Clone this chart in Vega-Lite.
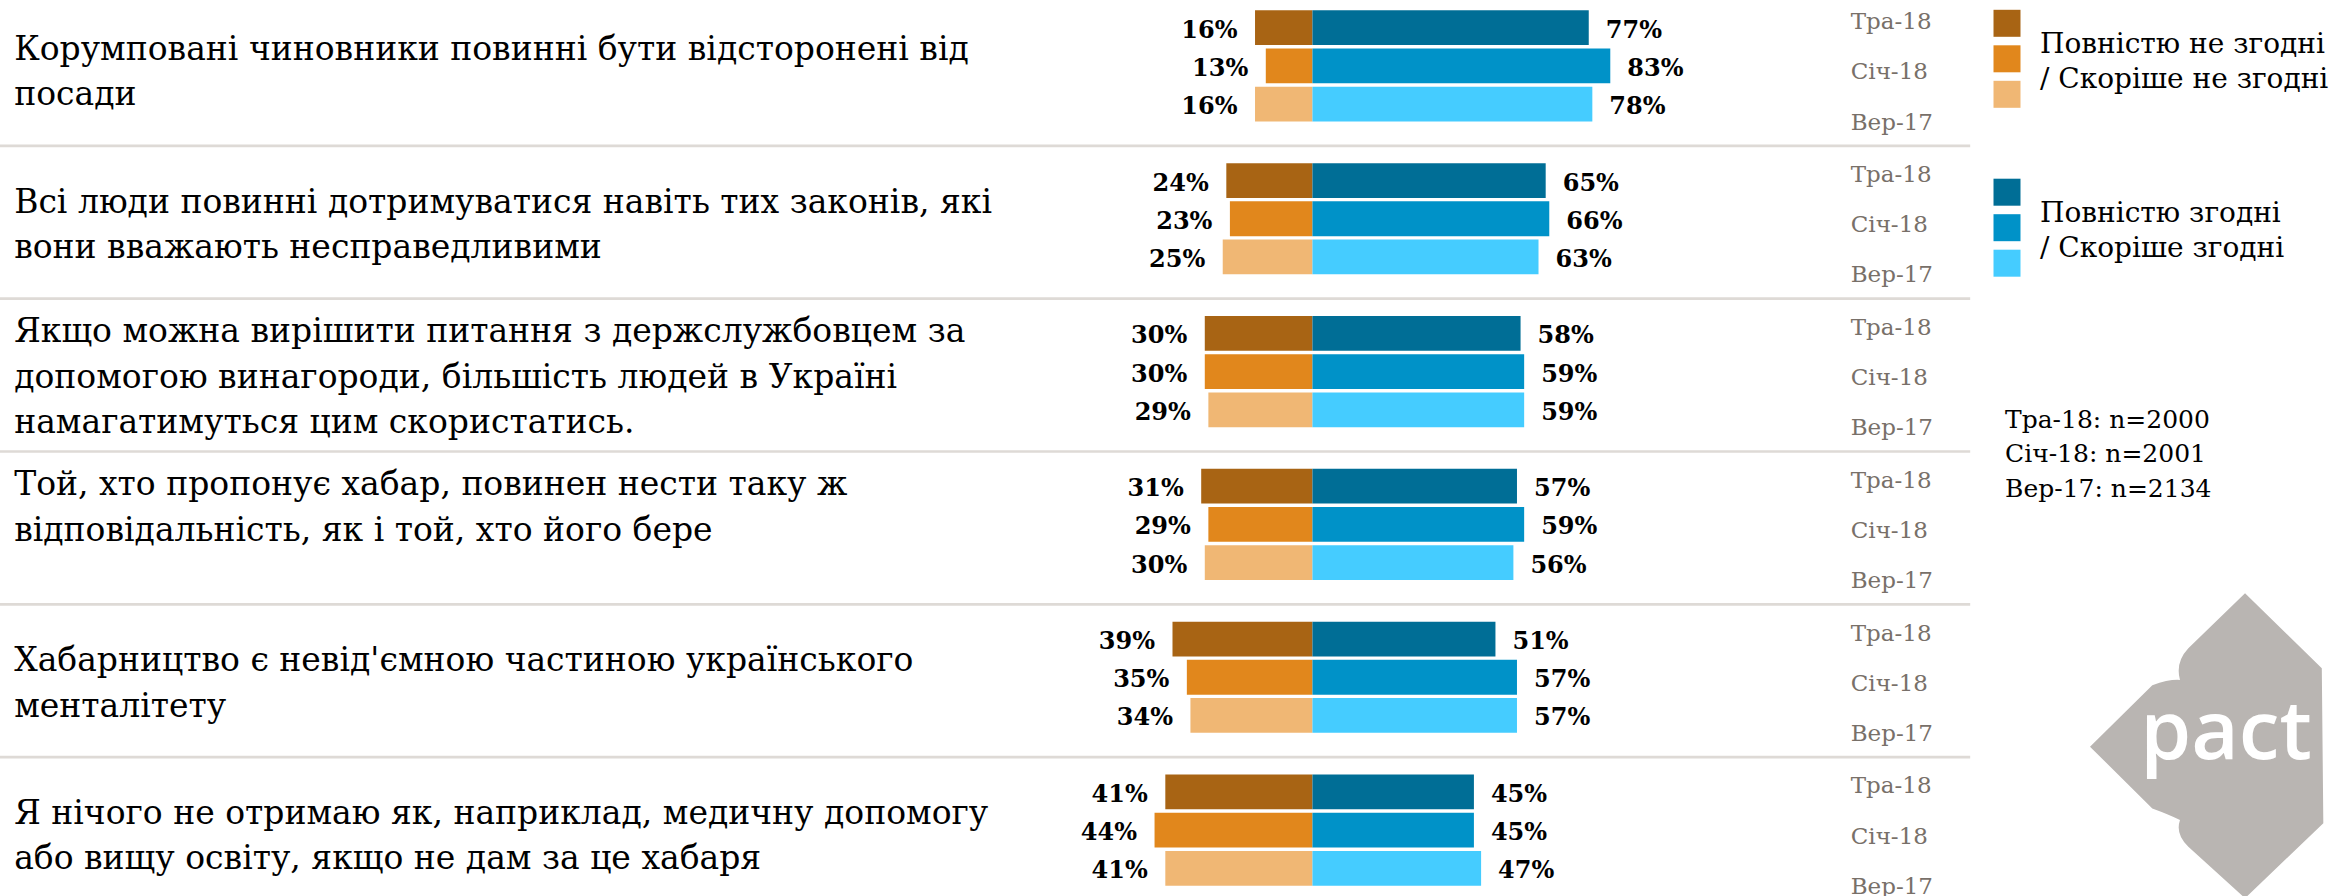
{
  "$schema": "https://vega.github.io/schema/vega-lite/v6.json",
  "width": 2334,
  "height": 896,
  "autosize": {"type": "none"},
  "padding": 0,
  "background": "white",
  "config": {
    "view": {"stroke": null},
    "axis": {"disable": true}
  },
  "datasets": {
    "bars": [
      {"slot": "1a", "wave": "Тра-18", "dis": 16, "agr": 77},
      {"slot": "1b", "wave": "Січ-18", "dis": 13, "agr": 83},
      {"slot": "1c", "wave": "Вер-17", "dis": 16, "agr": 78},
      {"slot": "2a", "wave": "Тра-18", "dis": 24, "agr": 65},
      {"slot": "2b", "wave": "Січ-18", "dis": 23, "agr": 66},
      {"slot": "2c", "wave": "Вер-17", "dis": 25, "agr": 63},
      {"slot": "3a", "wave": "Тра-18", "dis": 30, "agr": 58},
      {"slot": "3b", "wave": "Січ-18", "dis": 30, "agr": 59},
      {"slot": "3c", "wave": "Вер-17", "dis": 29, "agr": 59},
      {"slot": "4a", "wave": "Тра-18", "dis": 31, "agr": 57},
      {"slot": "4b", "wave": "Січ-18", "dis": 29, "agr": 59},
      {"slot": "4c", "wave": "Вер-17", "dis": 30, "agr": 56},
      {"slot": "5a", "wave": "Тра-18", "dis": 39, "agr": 51},
      {"slot": "5b", "wave": "Січ-18", "dis": 35, "agr": 57},
      {"slot": "5c", "wave": "Вер-17", "dis": 34, "agr": 57},
      {"slot": "6a", "wave": "Тра-18", "dis": 41, "agr": 45},
      {"slot": "6b", "wave": "Січ-18", "dis": 44, "agr": 45},
      {"slot": "6c", "wave": "Вер-17", "dis": 41, "agr": 47}
    ],
    "questions": [
      {"slot": "1a", "text": "Корумповані чиновники повинні бути відсторонені від\nпосади"},
      {"slot": "2a", "text": "Всі люди повинні дотримуватися навіть тих законів, які\nвони вважають несправедливими"},
      {"slot": "3a", "text": "Якщо можна вирішити питання з держслужбовцем за\nдопомогою винагороди, більшість людей в Україні\nнамагатимуться цим скористатись."},
      {"slot": "4a", "text": "Той, хто пропонує хабар, повинен нести таку ж\nвідповідальність, як і той, хто його бере"},
      {"slot": "5a", "text": "Хабарництво є невід'ємною частиною українського\nменталітету"},
      {"slot": "6a", "text": "Я нічого не отримаю як, наприклад, медичну допомогу\nабо вищу освіту, якщо не дам за це хабаря"}
    ],
    "seps": [
      {"slot": "1s"}, {"slot": "2s"}, {"slot": "3s"}, {"slot": "4s"}, {"slot": "5s"}
    ],
    "notes": [
      {"slot": "3s", "text": "Тра-18: n=2000\nСіч-18: n=2001\nВер-17: n=2134"}
    ],
    "logo": [
      {"slot": "5s", "label": "pact"}
    ]
  },
  "layer": [
    {
      "data": {"name": "seps"},
      "mark": {"type": "rule", "color": "#dedad6", "strokeWidth": 2.7},
      "encoding": {
        "y": {
          "field": "slot", "type": "nominal", "bandPosition": 0.6, "axis": null,
          "scale": {
            "type": "band",
            "domain": ["1a","1b","1c","1s","2a","2b","2c","2s","3a","3b","3c","3s","4a","4b","4c","4s","5a","5b","5c","5s","6a","6b","6c"],
            "paddingInner": 0.09,
            "paddingOuter": 0.27
          }
        },
        "x": {"datum": -365.74, "type": "quantitative", "axis": null,
              "scale": {"domain": [-365.74, 284.68], "nice": false, "zero": false}},
        "x2": {"datum": 183.3}
      }
    },
    {
      "data": {"name": "bars"},
      "transform": [{"calculate": "-datum.dis", "as": "neg"}],
      "mark": {"type": "bar"},
      "encoding": {
        "y": {"field": "slot", "type": "nominal", "axis": null},
        "x": {"field": "neg", "type": "quantitative", "axis": null},
        "x2": {"datum": 0},
        "color": {
          "field": "wave", "type": "nominal",
          "scale": {"domain": ["Тра-18", "Січ-18", "Вер-17"], "range": ["#a86414", "#e1871c", "#f0b774"]},
          "legend": {
            "orient": "none", "legendX": 1993, "legendY": 9.3, "title": null, "padding": 0,
            "symbolType": "square", "symbolSize": 729, "symbolStrokeWidth": 0, "symbolOpacity": 1,
            "rowPadding": -6.5, "labelOffset": 19, "labelLimit": 0,
            "labelFont": "DejaVu Serif", "labelFontSize": 28, "labelColor": "#000000",
            "labelBaseline": "bottom",
            "labelExpr": "datum.label == 'Січ-18' ? 'Повністю не згодні' : datum.label == 'Вер-17' ? '/ Скоріше не згодні' : ''"
          }
        }
      }
    },
    {
      "data": {"name": "bars"},
      "mark": {"type": "bar"},
      "encoding": {
        "y": {"field": "slot", "type": "nominal", "axis": null},
        "x": {"field": "agr", "type": "quantitative", "axis": null},
        "x2": {"datum": 0},
        "fill": {
          "field": "wave", "type": "nominal", "sort": null,
          "scale": {"range": ["#006e96", "#0092c8", "#45ccff"]},
          "legend": {
            "orient": "none", "legendX": 1993, "legendY": 178.2, "title": null, "padding": 0,
            "symbolType": "square", "symbolSize": 729, "symbolStrokeWidth": 0, "symbolOpacity": 1,
            "rowPadding": -6.5, "labelOffset": 19, "labelLimit": 0,
            "labelFont": "DejaVu Serif", "labelFontSize": 28, "labelColor": "#000000",
            "labelBaseline": "bottom",
            "labelExpr": "datum.label == 'Січ-18' ? 'Повністю згодні' : datum.label == 'Вер-17' ? '/ Скоріше згодні' : ''"
          }
        }
      }
    },
    {
      "data": {"name": "bars"},
      "transform": [
        {"calculate": "-datum.dis", "as": "neg"},
        {"calculate": "datum.dis + '%'", "as": "lab"}
      ],
      "mark": {"type": "text", "align": "right", "baseline": "alphabetic", "dx": -17.5, "dy": 10,
               "font": "DejaVu Serif", "fontWeight": "bold", "fontSize": 24, "color": "#000000"},
      "encoding": {
        "y": {"field": "slot", "type": "nominal", "axis": null},
        "x": {"field": "neg", "type": "quantitative", "axis": null},
        "text": {"field": "lab", "type": "nominal"}
      }
    },
    {
      "data": {"name": "bars"},
      "transform": [{"calculate": "datum.agr + '%'", "as": "lab"}],
      "mark": {"type": "text", "align": "left", "baseline": "alphabetic", "dx": 17, "dy": 10,
               "font": "DejaVu Serif", "fontWeight": "bold", "fontSize": 24, "color": "#000000"},
      "encoding": {
        "y": {"field": "slot", "type": "nominal", "axis": null},
        "x": {"field": "agr", "type": "quantitative", "axis": null},
        "text": {"field": "lab", "type": "nominal"}
      }
    },
    {
      "data": {"name": "bars"},
      "transform": [{"filter": "datum.wave == 'Тра-18'"}],
      "mark": {"type": "text", "align": "left", "baseline": "alphabetic", "dy": 1.5,
               "font": "DejaVu Serif", "fontSize": 23, "color": "#787069"},
      "encoding": {
        "y": {"field": "slot", "type": "nominal", "axis": null},
        "x": {"datum": 150, "type": "quantitative", "axis": null},
        "text": {"field": "wave", "type": "nominal"}
      }
    },
    {
      "data": {"name": "bars"},
      "transform": [{"filter": "datum.wave == 'Січ-18'"}],
      "mark": {"type": "text", "align": "left", "baseline": "alphabetic", "dy": 13.5,
               "font": "DejaVu Serif", "fontSize": 23, "color": "#787069"},
      "encoding": {
        "y": {"field": "slot", "type": "nominal", "axis": null},
        "x": {"datum": 150, "type": "quantitative", "axis": null},
        "text": {"field": "wave", "type": "nominal"}
      }
    },
    {
      "data": {"name": "bars"},
      "transform": [{"filter": "datum.wave == 'Вер-17'"}],
      "mark": {"type": "text", "align": "left", "baseline": "alphabetic", "dy": 25.5,
               "font": "DejaVu Serif", "fontSize": 23, "color": "#787069"},
      "encoding": {
        "y": {"field": "slot", "type": "nominal", "axis": null},
        "x": {"datum": 150, "type": "quantitative", "axis": null},
        "text": {"field": "wave", "type": "nominal"}
      }
    },
    {
      "data": {"name": "questions"},
      "transform": [{"filter": "datum.slot != '3a' && datum.slot != '4a'"}],
      "mark": {"type": "text", "align": "left", "baseline": "alphabetic", "dy": 32, "lineBreak": "\n",
               "lineHeight": 45.5, "font": "DejaVu Serif", "fontSize": 33, "color": "#000000"},
      "encoding": {
        "y": {"field": "slot", "type": "nominal", "axis": null},
        "x": {"datum": -361.8, "type": "quantitative", "axis": null},
        "text": {"field": "text", "type": "nominal"}
      }
    },
    {
      "data": {"name": "questions"},
      "transform": [{"filter": "datum.slot == '3a' || datum.slot == '4a'"}],
      "mark": {"type": "text", "align": "left", "baseline": "alphabetic", "dy": 9, "lineBreak": "\n",
               "lineHeight": 45.5, "font": "DejaVu Serif", "fontSize": 33, "color": "#000000"},
      "encoding": {
        "y": {"field": "slot", "type": "nominal", "axis": null},
        "x": {"datum": -361.8, "type": "quantitative", "axis": null},
        "text": {"field": "text", "type": "nominal"}
      }
    },
    {
      "data": {"name": "notes"},
      "mark": {"type": "text", "align": "left", "baseline": "alphabetic", "dy": -20.3, "lineBreak": "\n",
               "lineHeight": 34.5, "font": "DejaVu Serif", "fontSize": 25, "color": "#000000"},
      "encoding": {
        "y": {"field": "slot", "type": "nominal", "axis": null},
        "x": {"datum": 193.0, "type": "quantitative", "axis": null},
        "text": {"field": "text", "type": "nominal"}
      }
    },
    {
      "data": {"name": "logo"},
      "mark": {"type": "point", "filled": true, "fill": "#b9b5b2", "opacity": 1, "strokeWidth": 0,
               "size": 92416,
               "shape": "M 0.25 -1.055 L 0.755 -0.562 L 0.765 0.458 L 0.25 0.951 L -0.123 0.612 Q -0.21 0.53 -0.178 0.436 Q -0.25 0.4 -0.36 0.36 L -0.77 -0.046 L -0.36 -0.45 Q -0.25 -0.49 -0.178 -0.485 Q -0.21 -0.6 -0.123 -0.693 Z"},
      "encoding": {
        "y": {"field": "slot", "type": "nominal", "axis": null},
        "x": {"datum": 249.3, "type": "quantitative", "axis": null}
      }
    },
    {
      "data": {"name": "logo"},
      "mark": {"type": "text", "align": "center", "baseline": "alphabetic", "dy": 5,
               "font": "Open Sans", "fontWeight": 600, "fontSize": 82, "color": "#ffffff"},
      "encoding": {
        "y": {"field": "slot", "type": "nominal", "axis": null},
        "x": {"datum": 254.6, "type": "quantitative", "axis": null},
        "text": {"field": "label", "type": "nominal"}
      }
    }
  ]
}
